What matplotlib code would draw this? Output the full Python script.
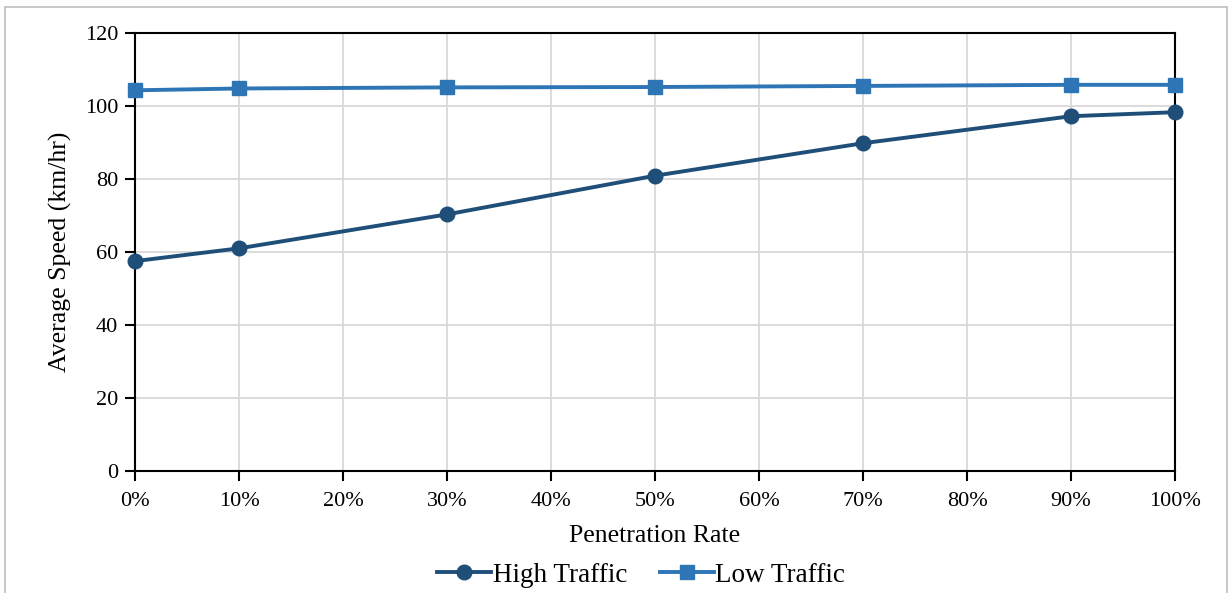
import matplotlib
matplotlib.use("Agg")
import matplotlib.pyplot as plt
from matplotlib.patches import Rectangle
from matplotlib.ticker import FuncFormatter

plt.rcParams['font.family'] = ['Liberation Serif', 'DejaVu Serif']

# penetration rate (%) and average speed (km/hr)
rates = [0, 10, 30, 50, 70, 90, 100]
high_traffic = [57.5, 61.0, 70.3, 80.9, 89.8, 97.2, 98.3]
low_traffic = [104.3, 104.8, 105.1, 105.2, 105.5, 105.8, 105.8]

fig = plt.figure(figsize=(12.32, 5.93), dpi=100)
ax = fig.add_axes([135/1232, 1-471/593, (1175-135)/1232, (471-33)/593])

ax.plot(rates, high_traffic, color='#1F4E79', lw=2.8, marker='o', ms=10.5,
        label='High Traffic', clip_on=False, zorder=3)
ax.plot(rates, low_traffic, color='#2E75B6', lw=2.8, marker='s', ms=10.5,
        label='Low Traffic', clip_on=False, zorder=3)

ax.set_xlim(0, 100)
ax.set_ylim(0, 120)
ax.set_xticks(range(0, 101, 10))
ax.set_yticks(range(0, 121, 20))
ax.xaxis.set_major_formatter(FuncFormatter(lambda v, p: f'{int(v)}%'))
ax.grid(True, color='#D9D9D9', lw=1.3)
ax.set_axisbelow(True)
for s in ax.spines.values():
    s.set_color('black')
    s.set_linewidth(1.5)
ax.tick_params(axis='both', direction='out', length=7, width=1.5,
               labelsize=16, colors='black')
ax.tick_params(axis='x', pad=8)
ax.tick_params(axis='y', pad=5)

ax.set_xlabel('Penetration Rate', fontsize=18.5, labelpad=10)
ax.set_ylabel('Average Speed (km/hr)', fontsize=18.5, labelpad=9)

fig.legend(loc='center', bbox_to_anchor=(641/1232, 1-575/593), ncol=2,
           frameon=False, fontsize=19.5, handlelength=2.0, columnspacing=1.2,
           handletextpad=0.05)

# outer chart border
fig.patches.append(Rectangle((5/1232, -0.02), 1-10/1232, 1.02-7/593,
                             transform=fig.transFigure, fill=False,
                             edgecolor='#BFBFBF', lw=1.2))

fig.savefig('out.png', dpi=100)
